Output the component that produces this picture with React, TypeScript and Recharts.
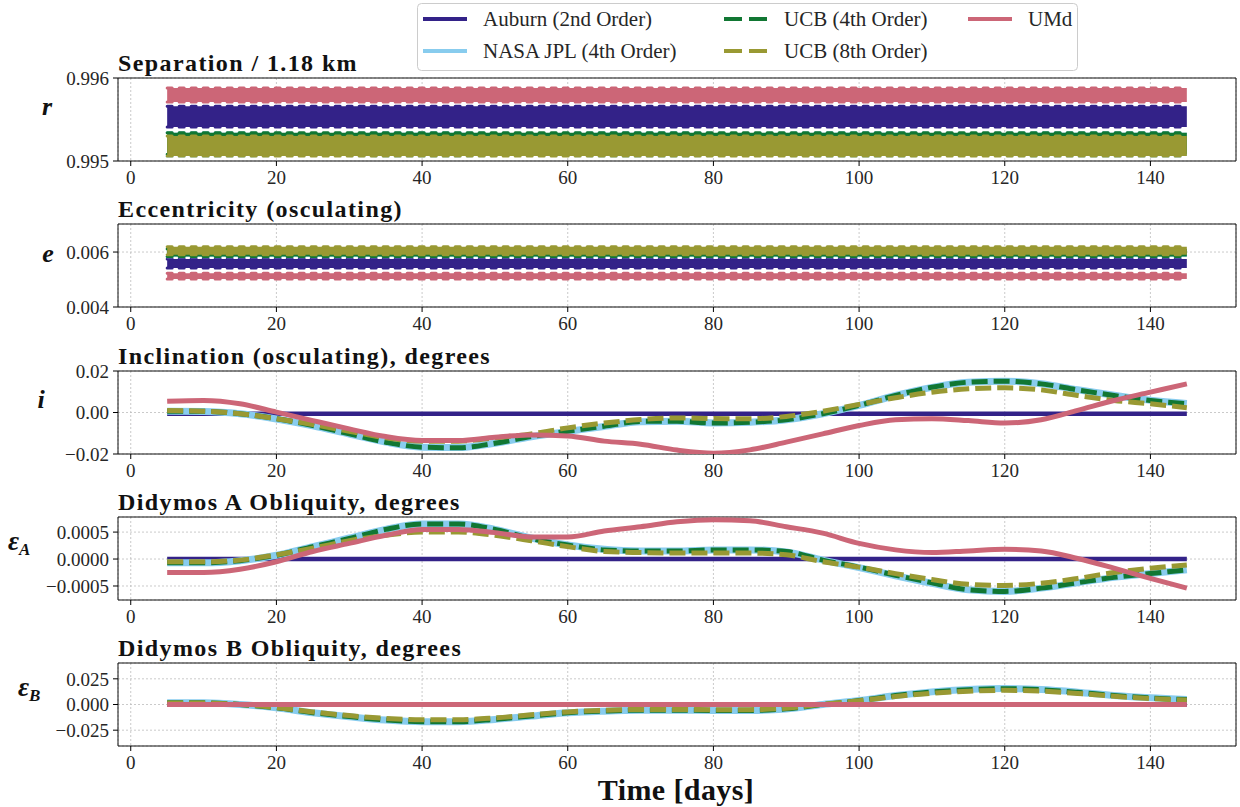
import React from 'react';
import { ComposedChart, Line, Area, XAxis, YAxis, CartesianGrid, ReferenceArea } from 'recharts';

// sample times (days)
const days = [5, 10, 15, 20, 25, 30, 35, 40, 45, 50, 55, 60, 65, 70, 75, 80, 85, 90, 95, 100, 105, 110, 115, 120, 125, 130, 135, 140, 145];
const bandDays = [5, 15, 25, 35, 45, 55, 65, 75, 85, 95, 105, 115, 125, 135, 145];
const xTicks = [0, 20, 40, 60, 80, 100, 120, 140];

// Separation / 1.18 km -- envelopes of the fast orbital oscillation
const sepAuburnLo = [0.99541, 0.99541, 0.99541, 0.99541, 0.99541, 0.99541, 0.99541, 0.99541, 0.99541, 0.99541, 0.99541, 0.99541, 0.99541, 0.99541, 0.99541];
const sepAuburnHi = [0.99566, 0.99566, 0.99566, 0.99566, 0.99566, 0.99566, 0.99566, 0.99566, 0.99566, 0.99566, 0.99566, 0.99566, 0.99566, 0.99566, 0.99566];
const sepJplLo = [0.99506, 0.99506, 0.99507, 0.99506, 0.99506, 0.99507, 0.99506, 0.99506, 0.99507, 0.99506, 0.99506, 0.99507, 0.99506, 0.99506, 0.99506];
const sepJplHi = [0.99534, 0.99534, 0.99533, 0.99534, 0.99534, 0.99533, 0.99534, 0.99534, 0.99533, 0.99534, 0.99534, 0.99533, 0.99534, 0.99534, 0.99534];
const sepUcb4Lo = [0.99508, 0.99508, 0.99508, 0.99508, 0.99508, 0.99508, 0.99508, 0.99508, 0.99508, 0.99508, 0.99508, 0.99508, 0.99508, 0.99508, 0.99508];
const sepUcb4Hi = [0.99534, 0.99534, 0.99534, 0.99534, 0.99534, 0.99534, 0.99534, 0.99534, 0.99534, 0.99534, 0.99534, 0.99534, 0.99534, 0.99534, 0.99534];
const sepUcb8Lo = [0.99506, 0.99506, 0.99506, 0.99506, 0.99506, 0.99506, 0.99506, 0.99506, 0.99506, 0.99506, 0.99506, 0.99506, 0.99506, 0.99506, 0.99506];
const sepUcb8Hi = [0.99530, 0.99530, 0.99530, 0.99530, 0.99530, 0.99530, 0.99530, 0.99530, 0.99530, 0.99530, 0.99530, 0.99530, 0.99530, 0.99530, 0.99530];
const sepUmdLo = [0.99571, 0.99571, 0.99571, 0.99571, 0.99571, 0.99571, 0.99571, 0.99571, 0.99571, 0.99571, 0.99571, 0.99571, 0.99571, 0.99571, 0.99571];
const sepUmdHi = [0.99588, 0.99588, 0.99588, 0.99588, 0.99588, 0.99588, 0.99588, 0.99588, 0.99588, 0.99588, 0.99588, 0.99588, 0.99588, 0.99588, 0.99588];

// Eccentricity (osculating)
const eccAuburnLo = [0.00542, 0.00542, 0.00542, 0.00542, 0.00542, 0.00542, 0.00542, 0.00542, 0.00542, 0.00542, 0.00542, 0.00542, 0.00542, 0.00542, 0.00542];
const eccAuburnHi = [0.00575, 0.00575, 0.00575, 0.00575, 0.00575, 0.00575, 0.00575, 0.00575, 0.00575, 0.00575, 0.00575, 0.00575, 0.00575, 0.00575, 0.00575];
const eccJplLo = [0.00583, 0.00583, 0.00583, 0.00583, 0.00583, 0.00583, 0.00583, 0.00583, 0.00583, 0.00583, 0.00583, 0.00583, 0.00583, 0.00583, 0.00583];
const eccJplHi = [0.00613, 0.00613, 0.00613, 0.00613, 0.00613, 0.00613, 0.00613, 0.00613, 0.00613, 0.00613, 0.00613, 0.00613, 0.00613, 0.00613, 0.00613];
const eccUcb4Lo = [0.00584, 0.00584, 0.00584, 0.00584, 0.00584, 0.00584, 0.00584, 0.00584, 0.00584, 0.00584, 0.00584, 0.00584, 0.00584, 0.00584, 0.00584];
const eccUcb4Hi = [0.00611, 0.00611, 0.00611, 0.00611, 0.00611, 0.00611, 0.00611, 0.00611, 0.00611, 0.00611, 0.00611, 0.00611, 0.00611, 0.00611, 0.00611];
const eccUcb8Lo = [0.00590, 0.00590, 0.00590, 0.00590, 0.00590, 0.00590, 0.00590, 0.00590, 0.00590, 0.00590, 0.00590, 0.00590, 0.00590, 0.00590, 0.00590];
const eccUcb8Hi = [0.00619, 0.00619, 0.00619, 0.00619, 0.00619, 0.00619, 0.00619, 0.00619, 0.00619, 0.00619, 0.00619, 0.00619, 0.00619, 0.00619, 0.00619];
const eccUmdLo = [0.00502, 0.00502, 0.00502, 0.00502, 0.00502, 0.00502, 0.00502, 0.00502, 0.00502, 0.00502, 0.00502, 0.00502, 0.00502, 0.00502, 0.00502];
const eccUmdHi = [0.00523, 0.00523, 0.00523, 0.00523, 0.00523, 0.00523, 0.00523, 0.00523, 0.00523, 0.00523, 0.00523, 0.00523, 0.00523, 0.00523, 0.00523];

// Inclination (osculating), degrees
const incAuburn = [-0.0006, -0.0006, -0.0006, -0.0006, -0.0006, -0.0006, -0.0006, -0.0006, -0.0006, -0.0006, -0.0006, -0.0006, -0.0006, -0.0006, -0.0006, -0.0006, -0.0006, -0.0006, -0.0006, -0.0006, -0.0006, -0.0006, -0.0006, -0.0006, -0.0006, -0.0006, -0.0006, -0.0006, -0.0006];
const incJpl = [0.0006, 0.0005, -0.0006, -0.0031, -0.0064, -0.0104, -0.0143, -0.0167, -0.0169, -0.0148, -0.0117, -0.0091, -0.0067, -0.0044, -0.0042, -0.0050, -0.0047, -0.0035, -0.0006, 0.0034, 0.0082, 0.0121, 0.0146, 0.0151, 0.0139, 0.0110, 0.0083, 0.0059, 0.0043];
const incUcb4 = [0.0006, 0.0006, -0.0006, -0.0030, -0.0063, -0.0103, -0.0143, -0.0167, -0.0170, -0.0148, -0.0116, -0.0090, -0.0066, -0.0043, -0.0042, -0.0051, -0.0047, -0.0035, -0.0006, 0.0034, 0.0082, 0.0122, 0.0146, 0.0151, 0.0138, 0.0109, 0.0082, 0.0058, 0.0042];
const incUcb8 = [0.0010, 0.0006, -0.0006, -0.0030, -0.0058, -0.0090, -0.0122, -0.0138, -0.0138, -0.0122, -0.0103, -0.0074, -0.0051, -0.0034, -0.0026, -0.0029, -0.0030, -0.0019, 0.0006, 0.0039, 0.0071, 0.0098, 0.0114, 0.0119, 0.0109, 0.0082, 0.0058, 0.0042, 0.0023];
const incUmd = [0.0054, 0.0058, 0.0042, 0.0002, -0.0039, -0.0079, -0.0116, -0.0135, -0.0135, -0.0119, -0.0108, -0.0113, -0.0138, -0.0153, -0.0181, -0.0196, -0.0180, -0.0143, -0.0103, -0.0063, -0.0035, -0.0030, -0.0039, -0.0051, -0.0035, 0.0010, 0.0058, 0.0098, 0.0138];

// Didymos A obliquity, degrees
const oblAAuburn = [0, 0, 0, 0, 0, 0, 0, 0, 0, 0, 0, 0, 0, 0, 0, 0, 0, 0, 0, 0, 0, 0, 0, 0, 0, 0, 0, 0, 0];
const oblAJpl = [-0.00007, -0.00007, -0.00003, 0.00007, 0.00023, 0.00039, 0.00055, 0.00065, 0.00065, 0.00055, 0.00039, 0.00026, 0.00018, 0.00015, 0.00015, 0.00017, 0.00017, 0.00013, -0.00002, -0.00016, -0.00031, -0.00045, -0.00057, -0.00060, -0.00054, -0.00044, -0.00034, -0.00027, -0.00020];
const oblAUcb4 = [-0.00007, -0.00007, -0.00003, 0.00007, 0.00023, 0.00038, 0.00055, 0.00065, 0.00065, 0.00055, 0.00038, 0.00026, 0.00017, 0.00015, 0.00015, 0.00017, 0.00017, 0.00014, -0.00002, -0.00015, -0.00030, -0.00044, -0.00057, -0.00060, -0.00054, -0.00044, -0.00034, -0.00027, -0.00020];
const oblAUcb8 = [-0.00005, -0.00005, -0.00002, 0.00008, 0.00020, 0.00034, 0.00044, 0.00050, 0.00050, 0.00044, 0.00034, 0.00023, 0.00014, 0.00012, 0.00011, 0.00011, 0.00011, 0.00008, -0.00005, -0.00015, -0.00027, -0.00038, -0.00047, -0.00049, -0.00045, -0.00036, -0.00025, -0.00017, -0.00011];
const oblAUmd = [-0.00025, -0.00025, -0.00019, -0.00005, 0.00014, 0.00029, 0.00044, 0.00055, 0.00055, 0.00049, 0.00041, 0.00041, 0.00052, 0.00060, 0.00069, 0.00073, 0.00071, 0.00060, 0.00048, 0.00029, 0.00017, 0.00012, 0.00015, 0.00018, 0.00015, 0.00001, -0.00017, -0.00036, -0.00054];

// Didymos B obliquity, degrees
const oblBAuburn = [0, 0, 0, 0, 0, 0, 0, 0, 0, 0, 0, 0, 0, 0, 0, 0, 0, 0, 0, 0, 0, 0, 0, 0, 0, 0, 0, 0, 0];
const oblBJpl = [0.0016, 0.0016, 0.0000, -0.0033, -0.0081, -0.0119, -0.0152, -0.0168, -0.0167, -0.0145, -0.0113, -0.0081, -0.0065, -0.0056, -0.0055, -0.0058, -0.0058, -0.0043, 0.0000, 0.0038, 0.0087, 0.0123, 0.0145, 0.0155, 0.0145, 0.0120, 0.0088, 0.0065, 0.0049];
const oblBUcb4 = [0.0016, 0.0016, 0.0000, -0.0032, -0.0080, -0.0118, -0.0151, -0.0167, -0.0167, -0.0144, -0.0112, -0.0080, -0.0064, -0.0055, -0.0055, -0.0058, -0.0058, -0.0042, 0.0000, 0.0038, 0.0087, 0.0122, 0.0144, 0.0154, 0.0144, 0.0119, 0.0087, 0.0064, 0.0048];
const oblBUcb8 = [0.0014, 0.0014, 0.0000, -0.0030, -0.0072, -0.0108, -0.0135, -0.0148, -0.0148, -0.0130, -0.0100, -0.0072, -0.0056, -0.0048, -0.0048, -0.0050, -0.0050, -0.0036, 0.0002, 0.0036, 0.0078, 0.0110, 0.0130, 0.0138, 0.0130, 0.0108, 0.0080, 0.0058, 0.0044];
const oblBUmd = [0, 0, 0, 0, 0, 0, 0, 0, 0, 0, 0, 0, 0, 0, 0, 0, 0, 0, 0, 0, 0, 0, 0, 0, 0, 0, 0, 0, 0];

const SERIES = [
  { key: 'auburn', name: 'Auburn (2nd Order)', color: '#332288', width: 4.5, dash: undefined },
  { key: 'jpl', name: 'NASA JPL (4th Order)', color: '#88CCEE', width: 7, dash: undefined },
  { key: 'ucb4', name: 'UCB (4th Order)', color: '#117733', width: 5, dash: '16 6' },
  { key: 'ucb8', name: 'UCB (8th Order)', color: '#999933', width: 5, dash: '16 6' },
  { key: 'umd', name: 'UMd', color: '#CC6677', width: 5, dash: undefined },
];

const FONT = "'Liberation Serif', 'Times New Roman', serif";
const X_DOMAIN: [number, number] = [-1.75, 151.75];

const bandRows = (s: Record<string, [number[], number[]]>) =>
  bandDays.map((t, i) => {
    const row: any = { t };
    Object.keys(s).forEach(k => { row[k] = [s[k][0][i], s[k][1][i]]; });
    return row;
  });

const lineRows = (s: Record<string, number[]>) =>
  days.map((t, i) => {
    const row: any = { t };
    Object.keys(s).forEach(k => { row[k] = s[k][i]; });
    return row;
  });

const sepData = bandRows({
  auburn: [sepAuburnLo, sepAuburnHi], jpl: [sepJplLo, sepJplHi], ucb4: [sepUcb4Lo, sepUcb4Hi],
  ucb8: [sepUcb8Lo, sepUcb8Hi], umd: [sepUmdLo, sepUmdHi],
});
const eccData = bandRows({
  auburn: [eccAuburnLo, eccAuburnHi], jpl: [eccJplLo, eccJplHi], ucb4: [eccUcb4Lo, eccUcb4Hi],
  ucb8: [eccUcb8Lo, eccUcb8Hi], umd: [eccUmdLo, eccUmdHi],
});
const incData = lineRows({ auburn: incAuburn, jpl: incJpl, ucb4: incUcb4, ucb8: incUcb8, umd: incUmd });
const oblAData = lineRows({ auburn: oblAAuburn, jpl: oblAJpl, ucb4: oblAUcb4, ucb8: oblAUcb8, umd: oblAUmd });
const oblBData = lineRows({ auburn: oblBAuburn, jpl: oblBJpl, ucb4: oblBUcb4, ucb8: oblBUcb8, umd: oblBUmd });

const fmt = (dec: number) => (v: number) => (v < 0 ? '\u2212' : '') + Math.abs(v).toFixed(dec);

const tickStyle = { fontSize: 19, fontFamily: FONT, fill: '#262626' };

interface PanelProps {
  top: number;
  data: any[];
  kind: 'band' | 'line';
  yDomain: [number, number];
  yTicks: number[];
  dec: number;
}

function Panel({ top, data, kind, yDomain, yTicks, dec }: PanelProps) {
  return (
    <div style={{ position: 'absolute', left: 0, top: top - 10 }}>
      <ComposedChart width={1240} height={123} data={data} margin={{ top: 10, right: 4, bottom: 0, left: 0 }}>
        <CartesianGrid strokeDasharray="2 2" stroke="#bdbdbd" strokeWidth={0.8} />
        <XAxis
          dataKey="t"
          type="number"
          domain={X_DOMAIN}
          ticks={xTicks}
          interval={0}
          allowDataOverflow
          axisLine={false}
          tickLine={{ stroke: '#000' }}
          tickSize={5}
          tickMargin={5}
          height={30}
          tick={tickStyle}
        />
        <YAxis
          type="number"
          domain={yDomain}
          ticks={yTicks}
          interval={0}
          allowDataOverflow
          width={118}
          axisLine={false}
          tickLine={{ stroke: '#000' }}
          tickSize={5}
          tickMargin={4}
          tick={tickStyle}
          tickFormatter={fmt(dec)}
        />
        {SERIES.map(s =>
          kind === 'band' ? (
            // dotted round-capped edge gives the scalloped look of the dense oscillation
            <Area
              key={s.key}
              type="linear"
              dataKey={s.key}
              stroke={s.color}
              strokeWidth={3}
              strokeDasharray="5 7"
              strokeLinecap="round"
              fill={s.color}
              fillOpacity={1}
              dot={false}
              activeDot={false}
              isAnimationActive={false}
            />
          ) : (
            <Line
              key={s.key}
              type="monotone"
              dataKey={s.key}
              stroke={s.color}
              strokeWidth={s.width}
              strokeDasharray={s.dash}
              dot={false}
              activeDot={false}
              isAnimationActive={false}
            />
          )
        )}
        <ReferenceArea
          x1={X_DOMAIN[0]}
          x2={X_DOMAIN[1]}
          y1={yDomain[0]}
          y2={yDomain[1]}
          fill="none"
          stroke="#111"
          strokeWidth={1}
          ifOverflow="visible"
        />
      </ComposedChart>
    </div>
  );
}

const PANEL_TOPS = [78, 224, 371, 517, 663];
const TITLES = [
  'Separation / 1.18 km',
  'Eccentricity (osculating)',
  'Inclination (osculating), degrees',
  'Didymos A Obliquity, degrees',
  'Didymos B Obliquity, degrees',
];

const LEGEND_COLS = [423, 724, 968];

export default function App() {
  return (
    <div style={{ position: 'absolute', left: 0, top: 0, width: 1240, height: 807, background: '#fff' }}>
      <Panel top={PANEL_TOPS[0]} data={sepData} kind="band" yDomain={[0.995, 0.996]} yTicks={[0.995, 0.996]} dec={3} />
      <Panel top={PANEL_TOPS[1]} data={eccData} kind="band" yDomain={[0.004, 0.00702]} yTicks={[0.004, 0.006]} dec={3} />
      <Panel top={PANEL_TOPS[2]} data={incData} kind="line" yDomain={[-0.02, 0.02]} yTicks={[-0.02, 0, 0.02]} dec={2} />
      <Panel top={PANEL_TOPS[3]} data={oblAData} kind="line" yDomain={[-0.00076, 0.00078]} yTicks={[-0.0005, 0, 0.0005]} dec={4} />
      <Panel top={PANEL_TOPS[4]} data={oblBData} kind="line" yDomain={[-0.0404, 0.0404]} yTicks={[-0.025, 0, 0.025]} dec={3} />

      <svg width={1240} height={807} style={{ position: 'absolute', left: 0, top: 0, pointerEvents: 'none' }}>
        {/* legend */}
        <rect x={417.5} y={3.5} width={660} height={67} rx={4} fill="#fff" fillOpacity={0.85} stroke="#cccccc" />
        {SERIES.map((s, i) => {
          const col = Math.floor(i / 2);
          const row = i % 2;
          const x = LEGEND_COLS[col];
          const y = row === 0 ? 19 : 51;
          return (
            <g key={s.key}>
              <line x1={x} x2={x + 44} y1={y} y2={y} stroke={s.color} strokeWidth={4} strokeDasharray={s.dash ? '18 7' : undefined} />
              <text x={x + 60} y={y + 7} fontFamily={FONT} fontSize={21} fill="#262626">{s.name}</text>
            </g>
          );
        })}

        {/* panel titles */}
        {TITLES.map((t, i) => (
          <text key={t} x={118} y={PANEL_TOPS[i] - 7} fontFamily={FONT} fontWeight="bold" fontSize={24} letterSpacing={1.4} fill="#111">{t}</text>
        ))}

        {/* y labels */}
        <text x={47} y={115} textAnchor="middle" fontFamily={FONT} fontStyle="italic" fontWeight="bold" fontSize={26} fill="#111">r</text>
        <text x={48} y={262} textAnchor="middle" fontFamily={FONT} fontStyle="italic" fontWeight="bold" fontSize={26} fill="#111">e</text>
        <text x={41} y={408} textAnchor="middle" fontFamily={FONT} fontStyle="italic" fontWeight="bold" fontSize={26} fill="#111">i</text>
        <text x={8} y={550} fontFamily={FONT} fontStyle="italic" fontWeight="bold" fontSize={27} fill="#111">
          ε<tspan fontSize={17} dy={5}>A</tspan>
        </text>
        <text x={18} y={696} fontFamily={FONT} fontStyle="italic" fontWeight="bold" fontSize={27} fill="#111">
          ε<tspan fontSize={17} dy={5}>B</tspan>
        </text>

        {/* x label */}
        <text x={676} y={800} textAnchor="middle" fontFamily={FONT} fontWeight="bold" fontSize={30} letterSpacing={0.4} fill="#111">Time [days]</text>
      </svg>
    </div>
  );
}
